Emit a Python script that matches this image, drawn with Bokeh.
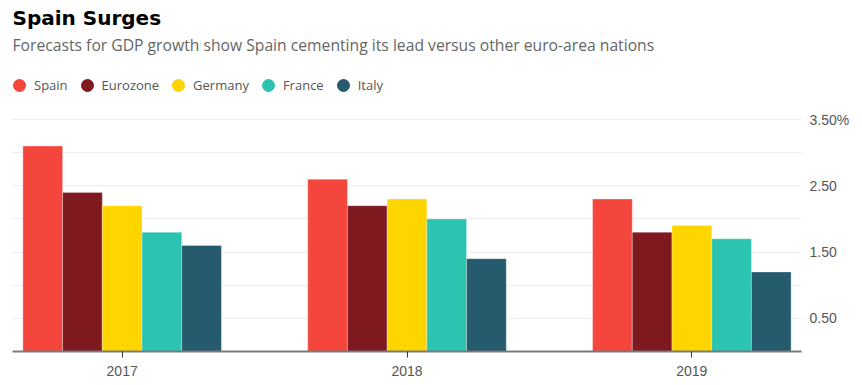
from bokeh.plotting import figure
from bokeh.models import (ColumnDataSource, Range1d, FixedTicker, Label, Legend, LegendItem)
from bokeh.transform import dodge
from bokeh.embed import file_html
from bokeh.resources import INLINE

# ---- data ----
years = ["2017", "2018", "2019"]
spain = [3.1, 2.6, 2.3]
eurozone = [2.4, 2.2, 1.8]
germany = [2.2, 2.3, 1.9]
france = [1.8, 2.0, 1.7]
italy = [1.6, 1.4, 1.2]
series_names = ["Spain", "Eurozone", "Germany", "France", "Italy"]
colors = ["#F5463D", "#7E1920", "#FFD500", "#2BC4B1", "#265B6D"]
y_tick_values = [0.5, 1.5, 2.5, 3.5]
y_tick_labels = ["0.50", "1.50", "2.50", "3.50%"]
grid_values = [0.5, 1.0, 1.5, 2.0, 2.5, 3.0, 3.5]

title_text = "Spain Surges"
subtitle_text = "Forecasts for GDP growth show Spain cementing its lead versus other euro-area nations"

FONT = "Open Sans"
TICK_FONT = "Liberation Sans"

# layout: the plot frame spans the full height above the baseline so the
# header (title, subtitle, legend) sits inside it; 3.5 lands ~232px above 0.
FRAME_H = 351
Y_TOP = 3.5 * FRAME_H / 232.0

src = ColumnDataSource(dict(
    x=list(range(len(years))),
    Spain=spain, Eurozone=eurozone, Germany=germany, France=france, Italy=italy,
))

p = figure(width=862, height=385, output_backend="svg", toolbar_location=None,
           x_range=Range1d(-0.385, 2.385), y_range=Range1d(0, Y_TOP),
           y_axis_location="right",
           min_border_left=12, min_border_right=61, min_border_top=0, min_border_bottom=385 - FRAME_H)
p.outline_line_color = None
p.background_fill_color = "white"
p.border_fill_color = "white"

bar_w = 0.1394
n = len(series_names)
renderers = []
for i, (name, color) in enumerate(zip(series_names, colors)):
    off = (i - (n - 1) / 2) * bar_w
    p.vbar(x=dodge("x", off), top=name, width=bar_w, source=src,
           fill_color=color, line_color="white", line_alpha=0.3, line_width=1)
    # legend-only marker (not drawn in the plot: NaN position)
    r = p.scatter(x=[float("nan")], y=[float("nan")], marker="circle", size=12,
                  fill_color=color, line_color=color)
    renderers.append(r)

# x axis
p.xaxis.ticker = FixedTicker(ticks=list(range(len(years))))
p.xaxis.major_label_overrides = {i: y for i, y in enumerate(years)}
p.xaxis.axis_line_color = "#7a7a7a"
p.xaxis.axis_line_width = 2
p.xaxis.major_tick_line_color = "#333333"
p.xaxis.major_tick_out = 6
p.xaxis.major_tick_in = 0
p.xaxis.minor_tick_line_color = None
p.xaxis.major_label_standoff = 8
p.xaxis.major_label_text_font = TICK_FONT
p.xaxis.major_label_text_font_size = "14px"
p.xaxis.major_label_text_color = "#555555"

# y axis (right)
p.yaxis.ticker = FixedTicker(ticks=y_tick_values)
p.yaxis.major_label_overrides = {v: l for v, l in zip(y_tick_values, y_tick_labels)}
p.yaxis.axis_line_color = None
p.yaxis.major_tick_line_color = None
p.yaxis.minor_tick_line_color = None
p.yaxis.major_tick_out = 0
p.yaxis.major_label_standoff = 8
p.yaxis.major_label_text_font = TICK_FONT
p.yaxis.major_label_text_font_size = "14px"
p.yaxis.major_label_text_color = "#555555"

p.xgrid.grid_line_color = None
p.ygrid.ticker = FixedTicker(ticks=grid_values)
p.ygrid.grid_line_color = "#ededed"
p.ygrid.grid_line_width = 1

# title & subtitle (screen units relative to the frame, y up from baseline)
p.add_layout(Label(x=0, y=FRAME_H - 17, x_units="screen", y_units="screen", text=title_text,
                   text_font="DejaVu Sans", text_font_style="bold", text_font_size="20px",
                   text_color="#000000", text_baseline="middle"))
p.add_layout(Label(x=0, y=FRAME_H - 44, x_units="screen", y_units="screen", text=subtitle_text,
                   text_font=FONT, text_font_size="15.7px",
                   text_color="#666666", text_baseline="middle"))

legend = Legend(items=[LegendItem(label=nm, renderers=[r]) for nm, r in zip(series_names, renderers)],
                orientation="horizontal", location=(-8, FRAME_H - 85 - 15), padding=0, margin=0, spacing=4,
                glyph_width=30, glyph_height=30, label_standoff=0, label_height=30,
                label_text_font=FONT, label_text_font_size="13px", label_text_color="#555555",
                border_line_color=None, background_fill_alpha=0)
p.add_layout(legend, "center")

open("out.html", "w").write(file_html(p, INLINE))
